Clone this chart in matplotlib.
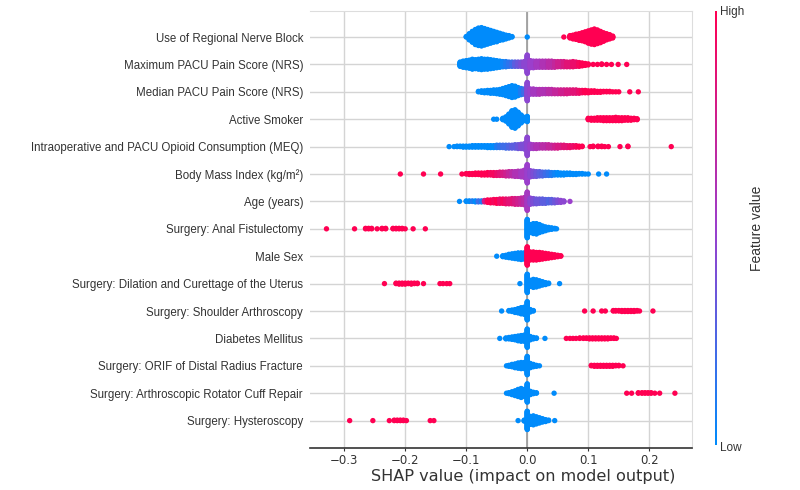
import numpy as np
import matplotlib
matplotlib.use("Agg")
import matplotlib.pyplot as plt
from matplotlib.colors import LinearSegmentedColormap
from matplotlib.cm import ScalarMappable

# feature names, top to bottom
features = [
    "Use of Regional Nerve Block",
    "Maximum PACU Pain Score (NRS)",
    "Median PACU Pain Score (NRS)",
    "Active Smoker",
    "Intraoperative and PACU Opioid Consumption (MEQ)",
    "Body Mass Index (kg/m²)",
    "Age (years)",
    "Surgery: Anal Fistulectomy",
    "Male Sex",
    "Surgery: Dilation and Curettage of the Uterus",
    "Surgery: Shoulder Arthroscopy",
    "Diabetes Mellitus",
    "Surgery: ORIF of Distal Radius Fracture",
    "Surgery: Arthroscopic Rotator Cuff Repair",
    "Surgery: Hysteroscopy",
]

# each entry: (SHAP value, number of patients at that value, feature value 0=low .. 1=high)
nerve_block = [
    (-0.100, 2, 0), (-0.095, 14, 0), (-0.090, 24, 0), (-0.085, 33, 0), (-0.080, 38, 0),
    (-0.075, 40, 0), (-0.070, 36, 0), (-0.065, 32, 0), (-0.060, 28, 0), (-0.055, 24, 0),
    (-0.050, 21, 0), (-0.045, 16, 0), (-0.040, 13, 0), (-0.035, 9, 0), (-0.030, 6, 0),
    (-0.025, 2, 0), (0.000, 1, 0),
    (0.060, 1, 1), (0.070, 6, 1), (0.075, 9, 1), (0.080, 12, 1), (0.085, 15, 1),
    (0.090, 18, 1), (0.095, 22, 1), (0.100, 27, 1), (0.105, 31, 1), (0.110, 34, 1),
    (0.115, 30, 1), (0.120, 25, 1), (0.125, 19, 1), (0.130, 14, 1), (0.135, 10, 1),
    (0.140, 5, 1),
]
max_pain = [
    (-0.110, 10, 0), (-0.105, 14, 0), (-0.100, 16, 0), (-0.095, 18, 0), (-0.090, 22, 0),
    (-0.085, 20, 0), (-0.080, 22, 0), (-0.075, 24, 0), (-0.070, 22, 0), (-0.065, 22, 0),
    (-0.060, 20, 0), (-0.055, 18, 0), (-0.050, 16, 0), (-0.045, 14, 0), (-0.040, 12, 0.05),
    (-0.035, 12, 0.1), (-0.030, 10, 0.15), (-0.025, 10, 0.2), (-0.020, 10, 0.3),
    (-0.015, 10, 0.35), (-0.010, 10, 0.4), (-0.005, 12, 0.45), (0.000, 40, 0.45),
    (0.005, 16, 0.5), (0.010, 15, 0.5), (0.015, 14, 0.55), (0.020, 14, 0.55),
    (0.025, 14, 0.6), (0.030, 14, 0.6), (0.035, 14, 0.65), (0.040, 14, 0.65),
    (0.045, 13, 0.7), (0.050, 12, 0.75), (0.055, 12, 0.75), (0.060, 12, 0.8),
    (0.065, 11, 0.85), (0.070, 11, 0.85), (0.075, 12, 0.9), (0.080, 10, 0.9),
    (0.085, 9, 0.95), (0.090, 7, 1), (0.095, 5, 1), (0.100, 3, 1), (0.108, 1, 1),
    (0.115, 1, 1), (0.122, 2, 1), (0.130, 1, 1), (0.138, 1, 1), (0.149, 1, 1),
    (0.163, 1, 1),
]
median_pain = [
    (-0.080, 2, 0), (-0.075, 4, 0), (-0.070, 5, 0), (-0.065, 6, 0), (-0.060, 7, 0),
    (-0.055, 8, 0), (-0.050, 9, 0), (-0.045, 11, 0), (-0.040, 14, 0), (-0.035, 18, 0),
    (-0.030, 22, 0), (-0.025, 26, 0), (-0.020, 24, 0), (-0.015, 18, 0), (-0.010, 14, 0.1),
    (-0.005, 12, 0.2), (0.000, 40, 0.45),
    (0.005, 12, 0.5), (0.010, 12, 0.55), (0.015, 11, 0.55), (0.020, 11, 0.6),
    (0.025, 10, 0.6), (0.030, 10, 0.6), (0.035, 10, 0.65), (0.040, 10, 0.65),
    (0.045, 9, 0.7), (0.050, 9, 0.7), (0.055, 9, 0.75), (0.060, 9, 0.75),
    (0.065, 9, 0.8), (0.070, 8, 0.8), (0.075, 8, 0.85), (0.080, 8, 0.85),
    (0.085, 7, 0.9), (0.090, 6, 0.95), (0.095, 6, 1), (0.100, 5, 1), (0.105, 4, 1),
    (0.110, 4, 1), (0.115, 3, 1), (0.120, 3, 1), (0.125, 2, 1), (0.130, 2, 1),
    (0.135, 2, 1), (0.140, 1, 1), (0.145, 1, 1), (0.150, 1, 1), (0.168, 1, 1),
    (0.182, 1, 1),
]
smoker = [
    (-0.055, 1, 0), (-0.050, 1, 0), (-0.040, 4, 0), (-0.035, 10, 0), (-0.030, 22, 0),
    (-0.025, 36, 0), (-0.020, 40, 0), (-0.015, 30, 0), (-0.010, 18, 0), (-0.005, 8, 0),
    (0.000, 12, 0),
    (0.100, 4, 1), (0.105, 5, 1), (0.110, 5, 1), (0.115, 6, 1), (0.120, 6, 1),
    (0.125, 7, 1), (0.130, 7, 1), (0.135, 7, 1), (0.140, 7, 1), (0.145, 8, 1),
    (0.150, 7, 1), (0.155, 7, 1), (0.160, 6, 1), (0.165, 6, 1), (0.170, 5, 1),
    (0.175, 4, 1), (0.180, 3, 1),
]
opioids = [
    (-0.128, 1, 0), (-0.120, 1, 0), (-0.115, 2, 0), (-0.110, 2, 0), (-0.105, 3, 0),
    (-0.100, 3, 0), (-0.095, 3, 0), (-0.090, 4, 0), (-0.085, 4, 0), (-0.080, 4, 0),
    (-0.075, 4, 0), (-0.070, 4, 0), (-0.065, 5, 0), (-0.060, 5, 0), (-0.055, 5, 0),
    (-0.050, 6, 0.1), (-0.045, 6, 0.15), (-0.040, 6, 0.2), (-0.035, 7, 0.2),
    (-0.030, 7, 0.25), (-0.025, 7, 0.3), (-0.020, 8, 0.3), (-0.015, 9, 0.35),
    (-0.010, 10, 0.4), (-0.005, 12, 0.4), (0.000, 40, 0.45),
    (0.005, 10, 0.5), (0.010, 9, 0.55), (0.015, 9, 0.6), (0.020, 8, 0.6),
    (0.025, 8, 0.65), (0.030, 8, 0.65), (0.035, 8, 0.7), (0.040, 7, 0.7),
    (0.045, 7, 0.75), (0.050, 7, 0.8), (0.055, 6, 0.8), (0.060, 6, 0.85),
    (0.065, 5, 0.85), (0.070, 5, 0.9), (0.075, 4, 0.9), (0.080, 4, 0.95),
    (0.085, 3, 1), (0.090, 2, 1), (0.103, 1, 1), (0.108, 2, 1), (0.116, 2, 1),
    (0.122, 2, 1), (0.127, 1, 1), (0.133, 1, 1), (0.152, 1, 1), (0.165, 2, 1),
    (0.236, 1, 1),
]
bmi = [
    (-0.208, 1, 1), (-0.170, 1, 1), (-0.142, 1, 1), (-0.107, 1, 1), (-0.100, 2, 1),
    (-0.095, 3, 1), (-0.090, 3, 1), (-0.085, 4, 1), (-0.080, 4, 1), (-0.075, 5, 1),
    (-0.070, 5, 1), (-0.065, 6, 1), (-0.060, 6, 0.95), (-0.055, 7, 0.95),
    (-0.050, 7, 0.9), (-0.045, 8, 0.85), (-0.040, 8, 0.8), (-0.035, 9, 0.75),
    (-0.030, 10, 0.7), (-0.025, 10, 0.65), (-0.020, 11, 0.6), (-0.015, 12, 0.6),
    (-0.010, 13, 0.55), (-0.005, 16, 0.55), (0.000, 40, 0.5),
    (0.005, 14, 0.45), (0.010, 12, 0.4), (0.015, 11, 0.35), (0.020, 10, 0.3),
    (0.025, 9, 0.25), (0.030, 8, 0.2), (0.035, 8, 0.15), (0.040, 7, 0.1),
    (0.045, 6, 0.05), (0.050, 6, 0), (0.055, 5, 0), (0.060, 5, 0), (0.065, 4, 0),
    (0.070, 4, 0), (0.075, 3, 0), (0.080, 3, 0), (0.085, 2, 0), (0.090, 2, 0),
    (0.095, 1, 0), (0.100, 1, 0), (0.117, 1, 0), (0.130, 1, 0),
]
age = [
    (-0.111, 1, 0), (-0.100, 2, 0), (-0.095, 2, 0), (-0.090, 2, 0.1), (-0.085, 3, 0),
    (-0.080, 3, 0.2), (-0.075, 3, 0.1), (-0.070, 4, 0.8), (-0.065, 6, 1), (-0.060, 7, 1),
    (-0.055, 8, 0.95), (-0.050, 9, 1), (-0.045, 10, 0.9), (-0.040, 10, 0.95),
    (-0.035, 11, 0.9), (-0.030, 11, 0.85), (-0.025, 12, 0.85), (-0.020, 13, 0.8),
    (-0.015, 13, 0.75), (-0.010, 14, 0.7), (-0.005, 16, 0.65), (0.000, 40, 0.55),
    (0.005, 14, 0.45), (0.010, 12, 0.4), (0.015, 11, 0.35), (0.020, 10, 0.35),
    (0.025, 10, 0.3), (0.030, 9, 0.3), (0.035, 8, 0.25), (0.040, 8, 0.3),
    (0.045, 7, 0.35), (0.050, 6, 0.4), (0.055, 5, 0.45), (0.060, 3, 0.45),
    (0.070, 1, 0.5),
]
anal_fistulectomy = [
    (-0.329, 1, 1), (-0.283, 1, 1), (-0.265, 2, 1), (-0.260, 2, 1), (-0.255, 2, 1),
    (-0.246, 1, 1), (-0.238, 2, 1), (-0.232, 2, 1), (-0.220, 2, 1), (-0.215, 2, 1),
    (-0.210, 2, 1), (-0.205, 2, 1), (-0.200, 1, 1), (-0.187, 1, 1), (-0.167, 1, 1),
    (0.000, 40, 0), (0.005, 18, 0), (0.010, 22, 0), (0.015, 23, 0), (0.020, 18, 0),
    (0.025, 13, 0), (0.030, 9, 0), (0.035, 6, 0), (0.040, 4, 0), (0.045, 2, 0),
    (0.048, 1, 0),
]
male_sex = [
    (-0.050, 1, 0), (-0.040, 3, 0), (-0.035, 5, 0), (-0.030, 8, 0), (-0.025, 10, 0),
    (-0.020, 12, 0), (-0.015, 14, 0), (-0.010, 15, 0), (-0.005, 14, 0),
    (0.000, 40, 1), (0.005, 18, 1), (0.010, 18, 1), (0.015, 17, 1), (0.020, 16, 1),
    (0.025, 14, 1), (0.030, 12, 1), (0.035, 10, 1), (0.040, 8, 1), (0.045, 6, 1),
    (0.050, 4, 1), (0.055, 2, 1),
]
dilation_curettage = [
    (-0.234, 1, 1), (-0.215, 2, 1), (-0.210, 3, 1), (-0.205, 3, 1), (-0.200, 3, 1),
    (-0.195, 2, 1), (-0.190, 3, 1), (-0.185, 2, 1), (-0.180, 2, 1), (-0.170, 1, 1),
    (-0.143, 1, 1), (-0.138, 1, 1), (-0.132, 1, 1), (-0.127, 1, 1),
    (-0.012, 1, 0), (0.000, 40, 0), (0.005, 14, 0), (0.010, 18, 0), (0.015, 16, 0),
    (0.020, 12, 0), (0.025, 8, 0), (0.030, 5, 0), (0.035, 2, 0), (0.053, 1, 0),
]
shoulder_arthroscopy = [
    (-0.042, 1, 0), (-0.030, 2, 0), (-0.025, 4, 0), (-0.020, 7, 0), (-0.015, 10, 0),
    (-0.010, 14, 0), (-0.005, 16, 0), (0.000, 40, 0), (0.005, 6, 0), (0.010, 2, 0),
    (0.094, 1, 1), (0.108, 1, 1), (0.122, 1, 1), (0.128, 1, 1), (0.141, 2, 1),
    (0.145, 2, 1), (0.150, 2, 1), (0.155, 3, 1), (0.160, 3, 1), (0.165, 3, 1),
    (0.170, 3, 1), (0.175, 3, 1), (0.180, 2, 1), (0.184, 1, 1), (0.206, 1, 1),
]
diabetes = [
    (-0.045, 1, 0), (-0.035, 3, 0), (-0.030, 4, 0), (-0.025, 6, 0), (-0.020, 8, 0),
    (-0.015, 11, 0), (-0.010, 13, 0), (-0.005, 14, 0), (0.000, 40, 0), (0.005, 8, 0),
    (0.010, 4, 0), (0.015, 2, 0), (0.029, 1, 0),
    (0.064, 1, 1), (0.070, 1, 1), (0.075, 1, 1), (0.080, 1, 1), (0.086, 2, 1),
    (0.092, 2, 1), (0.097, 2, 1), (0.102, 3, 1), (0.107, 3, 1), (0.112, 3, 1),
    (0.117, 3, 1), (0.122, 3, 1), (0.127, 3, 1), (0.132, 3, 1), (0.137, 2, 1),
    (0.142, 2, 1), (0.146, 1, 1),
]
orif_radius = [
    (-0.034, 1, 0), (-0.030, 3, 0), (-0.025, 6, 0), (-0.020, 9, 0), (-0.015, 12, 0),
    (-0.010, 14, 0), (-0.005, 14, 0), (0.000, 40, 0), (0.005, 10, 0), (0.010, 6, 0),
    (0.015, 3, 0), (0.020, 1, 0),
    (0.105, 2, 1), (0.110, 3, 1), (0.115, 3, 1), (0.120, 3, 1), (0.125, 3, 1),
    (0.130, 3, 1), (0.135, 3, 1), (0.140, 3, 1), (0.145, 2, 1), (0.150, 2, 1),
    (0.157, 1, 1),
]
rotator_cuff = [
    (-0.034, 1, 0), (-0.030, 3, 0), (-0.025, 7, 0), (-0.020, 11, 0), (-0.015, 16, 0),
    (-0.010, 20, 0), (-0.005, 16, 0), (0.000, 40, 0), (0.005, 8, 0), (0.010, 4, 0),
    (0.015, 2, 0), (0.044, 1, 0),
    (0.163, 1, 1), (0.171, 1, 1), (0.182, 2, 1), (0.188, 2, 1), (0.193, 2, 1),
    (0.198, 2, 1), (0.203, 2, 1), (0.209, 1, 1), (0.217, 1, 1), (0.242, 1, 1),
]
hysteroscopy = [
    (-0.291, 1, 1), (-0.253, 1, 1), (-0.226, 1, 1), (-0.218, 2, 1), (-0.213, 2, 1),
    (-0.208, 2, 1), (-0.203, 2, 1), (-0.198, 1, 1), (-0.159, 1, 1), (-0.153, 1, 1),
    (-0.015, 1, 0), (-0.005, 3, 0), (0.000, 40, 0), (0.005, 18, 0), (0.010, 20, 0),
    (0.015, 16, 0), (0.020, 12, 0), (0.025, 8, 0), (0.030, 5, 0), (0.035, 2, 0),
    (0.045, 1, 0),
]

rows = [nerve_block, max_pain, median_pain, smoker, opioids, bmi, age,
        anal_fistulectomy, male_sex, dilation_curettage, shoulder_arthroscopy,
        diabetes, orif_radius, rotator_cuff, hysteroscopy]

x_ticks = [-0.3, -0.2, -0.1, 0.0, 0.1, 0.2]

cmap = LinearSegmentedColormap.from_list("red_blue", ["#008bfb", "#9b3fcc", "#ff0052"])

label_font = ["Liberation Sans", "DejaVu Sans"]


def swarm(entries, row_height=0.4):
    # stack points sharing a SHAP bin alternately above and below the row
    xs, ys, cs = [], [], []
    for shap, n, val in entries:
        for layer in range(n):
            xs.append(shap)
            ys.append(np.ceil(layer / 2) * ((layer % 2) * 2 - 1))
            cs.append(val)
    ys = np.array(ys, dtype=float)
    ys *= 0.9 * (row_height / np.max(ys + 1))
    return np.array(xs), ys, np.array(cs)


fig = plt.figure(figsize=(8, 4.9), dpi=100)
ax = fig.add_axes([310 / 800, 42 / 490, 382 / 800, 437 / 490])

n = len(features)
ax.axvline(0, color="#999999", lw=1.2, zorder=1)
for i, entries in enumerate(rows):
    pos = n - 1 - i
    xs, ys, cs = swarm(entries)
    ax.scatter(xs, pos + ys, c=cs, cmap=cmap, vmin=0, vmax=1, s=15,
               linewidths=0, zorder=3)

ax.set_xlim(-0.356, 0.27)
ax.set_ylim(-1, n - 0.05)
ax.set_yticks(range(n))
ax.set_yticklabels(features[::-1], family=label_font, fontsize=8.3, color="#333333")
ax.set_xticks(x_ticks)
ax.set_xticklabels([f"{t:.1f}".replace("-", "\u2212") for t in x_ticks],
                   fontsize=8.5, color="#333333")
ax.tick_params(axis="y", length=0, pad=5)
ax.tick_params(axis="x", length=2, color="#333333", pad=2)
ax.grid(True, color="#d4d4d4", lw=1, zorder=0)
ax.set_axisbelow(True)
for side in ["top", "right"]:
    ax.spines[side].set_color("#dddddd")
ax.spines["left"].set_visible(False)
ax.spines["bottom"].set_color("#333333")
ax.spines["bottom"].set_linewidth(1.2)
ax.set_xlabel("SHAP value (impact on model output)", fontsize=11.6, color="#333333")
ax.xaxis.set_label_coords(0.557, -0.049)

# thin colour bar for feature value
cax = fig.add_axes([715 / 800, 45 / 490, 2 / 800, 434 / 490])
cb = fig.colorbar(ScalarMappable(cmap=cmap), cax=cax)
cb.outline.set_visible(False)
cb.set_ticks([])
fig.text(720 / 800, 1 - 12 / 490, "High", family=label_font, fontsize=8.5,
         color="#333333", ha="left", va="center")
fig.text(720 / 800, 1 - 448 / 490, "Low", family=label_font, fontsize=8.5,
         color="#333333", ha="left", va="center")
fig.text(757 / 800, 1 - 228 / 490, "Feature value", family=label_font, fontsize=10,
         color="#333333", ha="center", va="center", rotation=90)

fig.savefig("out.png", dpi=100)
